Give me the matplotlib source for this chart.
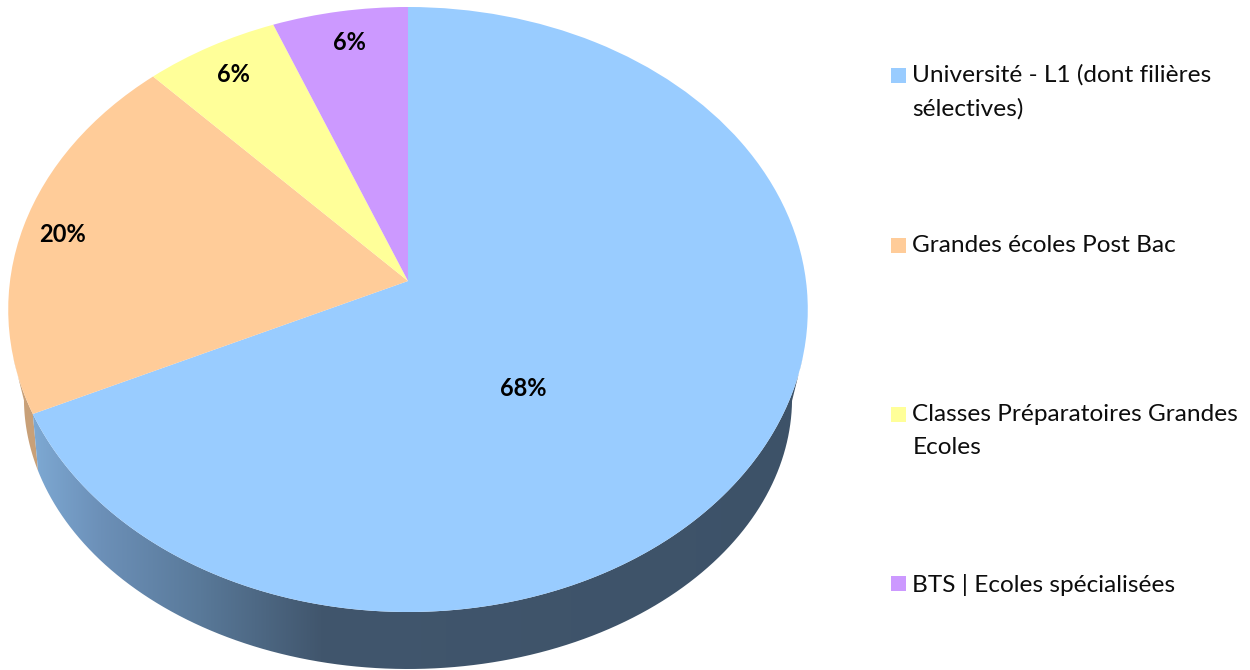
import matplotlib
matplotlib.use("Agg")
import matplotlib.pyplot as plt
from matplotlib.patches import PathPatch, Rectangle
from matplotlib.path import Path
from matplotlib.transforms import Transform
import numpy as np

labels = ["Université - L1 (dont filières\nsélectives)", "Grandes écoles Post Bac",
          "Classes Préparatoires Grandes\nEcoles", "BTS | Ecoles spécialisées"]
values = [68, 20, 6, 6]
colors = ["#99CCFF", "#FFCC99", "#FFFF99", "#CC99FF"]

# where the % labels sit, in pixels
pct_x = [523, 62, 233, 349]
pct_y = [388, 234, 74, 42]

# legend layout, in pixels
legend_text_y = [92, 246, 431, 585]
legend_box_y = [68, 238, 407, 576]

# side shading of the blue slice, left to right
shade_x = [35, 100, 200, 320, 820]
shade_c = ["#7DA8D2", "#6C90B8", "#597999", "#41566D", "#3D5268"]
orange_side = "#C8A078"


class Perspective(Transform):
	# unit circle -> tilted disc, the centre does not land on the ellipse centre
	input_dims = 2
	output_dims = 2

	def __init__(self, cx, top, bottom, apex, halfw):
		super().__init__()
		self.cx = cx
		self.apex = apex
		self.halfw = halfw
		self.c = (2 * apex - top - bottom) / (top - bottom)
		self.a = top * (1 + self.c) - apex

	def transform_non_affine(self, values):
		values = np.asarray(values, dtype=float)
		w = 1 + self.c * values[:, 1]
		x = self.cx + self.halfw * values[:, 0] / w
		y = (self.a * values[:, 1] + self.apex) / w
		return np.column_stack([x, y])


def shade(x):
	rgb = np.array([matplotlib.colors.to_rgb(c) for c in shade_c])
	return np.column_stack([np.interp(x, shade_x, rgb[:, i]) for i in range(3)])


def side_outline(wedge):
	t = np.radians(np.linspace(wedge.theta1, wedge.theta2, 601))
	circle = np.column_stack([np.cos(t), np.sin(t)])
	a = upper.transform_non_affine(circle)
	b = lower.transform_non_affine(circle)
	a = a[a[:, 1] > 357]
	b = b[b[:, 1] > 400]
	return np.vstack([a, b[::-1], a[:1]])


upper = Perspective(408, 7, 612, 281, 398)
lower = Perspective(408, 127, 669, 350, 378)

plt.rcParams['font.family'] = ['Lato', 'DejaVu Sans']

fig = plt.figure(figsize=(12.5, 6.7), dpi=100)
ax = fig.add_axes([0, 0, 1, 1])

wedges, _ = ax.pie(values, colors=colors, startangle=90, counterclock=False,
	wedgeprops={'linewidth': 0}, normalize=True)

# side of the disc, only the two front slices show
ax.fill(*side_outline(wedges[1]).T, color=orange_side, linewidth=0, zorder=0.4)

grad = shade(np.arange(0, 1250))[np.newaxis, :, :]
im = ax.imshow(grad, extent=[0, 1250, 670, 0], aspect='auto', zorder=0.5)
clip = PathPatch(Path(side_outline(wedges[0])), transform=ax.transData,
	facecolor='none', edgecolor='none')
ax.add_patch(clip)
im.set_clip_path(clip)

ax.set_aspect('auto')
ax.set_xlim(0, 1250)
ax.set_ylim(670, 0)
ax.axis('off')

for w in wedges:
	w.set_transform(upper + ax.transData)
	w.set_zorder(1)

for i in range(len(values)):
	ax.text(pct_x[i], pct_y[i], f"{values[i]}%", ha='center', va='center',
		fontsize=17, fontweight='bold', color='black', zorder=3)

for i in range(len(labels)):
	ax.add_patch(Rectangle((891, legend_box_y[i]), 15, 15, facecolor=colors[i], edgecolor='none'))
	ax.text(912.5, legend_text_y[i], labels[i], ha='left', va='center',
		fontsize=17.6, color='#0D0D0D', linespacing=1.72)

fig.savefig("out.png", dpi=100, facecolor='white')
